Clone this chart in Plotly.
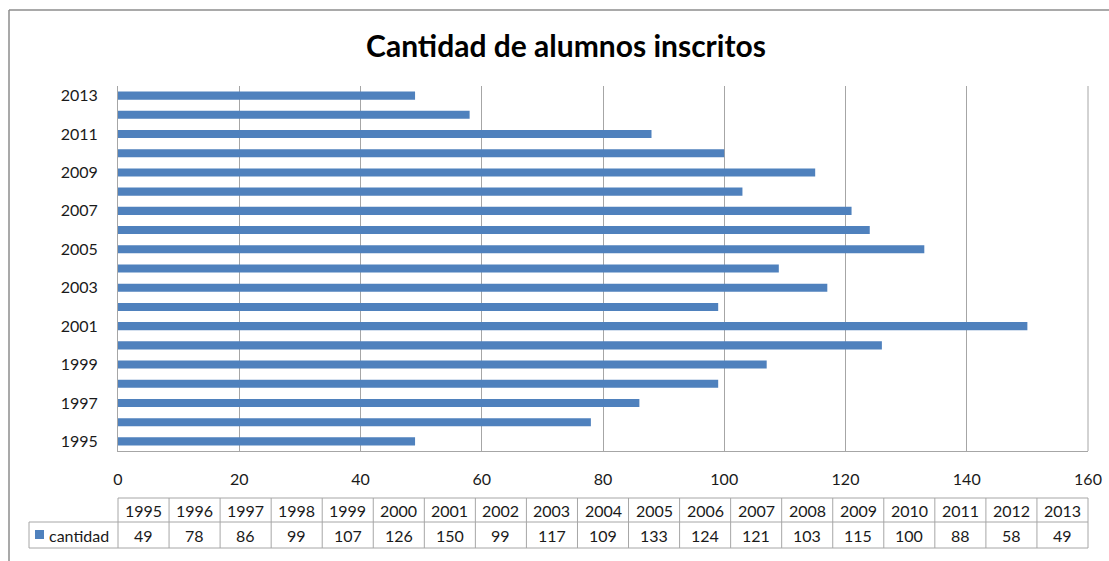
import plotly.graph_objects as go

years = list(range(1995, 2014))
cantidad = [49, 78, 86, 99, 107, 126, 150, 99, 117, 109, 133, 124, 121, 103, 115, 100, 88, 58, 49]
ytick_years = [1995, 1997, 1999, 2001, 2003, 2005, 2007, 2009, 2011, 2013]
xticks = [0, 20, 40, 60, 80, 100, 120, 140, 160]
title_text = "Cantidad de alumnos inscritos"
series_name = "cantidad"

W, H = 1109, 561
BAR_COLOR = "#4f81bd"
GRID = "#a6a6a6"
FONT = "Lato"
TXT = "#1a1a1a"

def px(x):
    return x / W

def py(y):
    return 1 - y / H

plot_l, plot_r, plot_t, plot_b = 118, 1088, 86, 451

fig = go.Figure()
fig.add_trace(go.Bar(
    y=years, x=cantidad, orientation="h", name=series_name,
    marker=dict(color=BAR_COLOR, line=dict(width=0)), width=0.42,
))

shapes = []
annotations = []

# outer chart frame
shapes.append(dict(type="line", xref="paper", yref="paper", x0=px(9), x1=px(9), y0=py(10), y1=py(561),
                   line=dict(color="#8c8c8c", width=1.5)))
shapes.append(dict(type="line", xref="paper", yref="paper", x0=px(9), x1=px(1109), y0=py(10), y1=py(10),
                   line=dict(color="#8c8c8c", width=1.5)))

# right edge gridline (160)
shapes.append(dict(type="line", xref="paper", yref="paper", x0=px(plot_r), x1=px(plot_r), y0=py(plot_t), y1=py(plot_b),
                   line=dict(color=GRID, width=1)))

# data table
n = len(years)
tab_l0 = 29
tab_l, tab_r = plot_l, plot_r
cw = (tab_r - tab_l) / n
t_top, t_mid, t_bot = 498, 522, 548
lc = dict(color=GRID, width=1)
shapes.append(dict(type="line", xref="paper", yref="paper", x0=px(tab_l), x1=px(tab_r), y0=py(t_top), y1=py(t_top), line=lc))
shapes.append(dict(type="line", xref="paper", yref="paper", x0=px(tab_l0), x1=px(tab_r), y0=py(t_mid), y1=py(t_mid), line=lc))
shapes.append(dict(type="line", xref="paper", yref="paper", x0=px(tab_l0), x1=px(tab_r), y0=py(t_bot), y1=py(t_bot), line=lc))
shapes.append(dict(type="line", xref="paper", yref="paper", x0=px(tab_l0), x1=px(tab_l0), y0=py(t_mid), y1=py(t_bot), line=lc))
for i in range(n + 1):
    xx = tab_l + i * cw
    shapes.append(dict(type="line", xref="paper", yref="paper", x0=px(xx), x1=px(xx), y0=py(t_top), y1=py(t_bot), line=lc))
for i, (yr, v) in enumerate(zip(years, cantidad)):
    cx = tab_l + (i + 0.5) * cw
    annotations.append(dict(x=px(cx), y=py((t_top + t_mid) / 2), xref="paper", yref="paper", text=str(yr),
                            showarrow=False, xanchor="center", yanchor="middle",
                            font=dict(family=FONT, size=16, color=TXT)))
    annotations.append(dict(x=px(cx), y=py((t_mid + t_bot) / 2), xref="paper", yref="paper", text=str(v),
                            showarrow=False, xanchor="center", yanchor="middle",
                            font=dict(family=FONT, size=16, color=TXT)))
# legend key in table
shapes.append(dict(type="rect", xref="paper", yref="paper", x0=px(35), x1=px(44), y0=py(539), y1=py(530),
                   fillcolor=BAR_COLOR, line=dict(width=0)))
annotations.append(dict(x=px(47), y=py((t_mid + t_bot) / 2), xref="paper", yref="paper", text=series_name,
                        showarrow=False, xanchor="left", yanchor="middle",
                        font=dict(family=FONT, size=16, color=TXT)))

fig.update_layout(
    width=W, height=H,
    margin=dict(l=0, r=0, t=0, b=0, autoexpand=False),
    paper_bgcolor="white", plot_bgcolor="white",
    showlegend=False,
    title=dict(text="<b>" + title_text + "</b>", x=px(566), xanchor="center", y=py(46), yanchor="middle",
               font=dict(family=FONT, size=30, color="#000000")),
    xaxis=dict(domain=[px(plot_l), px(plot_r)], range=[0, 160], tickvals=xticks, ticktext=[str(t) for t in xticks],
               showgrid=True, gridcolor=GRID, gridwidth=1, zeroline=False, automargin=False,
               showline=True, linecolor=GRID, linewidth=1, ticks="",
               ticklabelstandoff=14, tickfont=dict(family=FONT, size=16, color=TXT)),
    yaxis=dict(domain=[py(plot_b), py(plot_t)], range=[1994.5, 2013.5], tickvals=ytick_years,
               ticktext=[str(t) for t in ytick_years], showgrid=False, zeroline=False, automargin=False,
               showline=True, linecolor=GRID, linewidth=1, ticks="",
               ticklabelstandoff=16, tickfont=dict(family=FONT, size=16, color=TXT)),
    shapes=shapes, annotations=annotations,
)

fig.write_html("out.html", config={"displayModeBar": False},
               post_script="document.body.style.margin='0';document.body.style.overflow='hidden';")
